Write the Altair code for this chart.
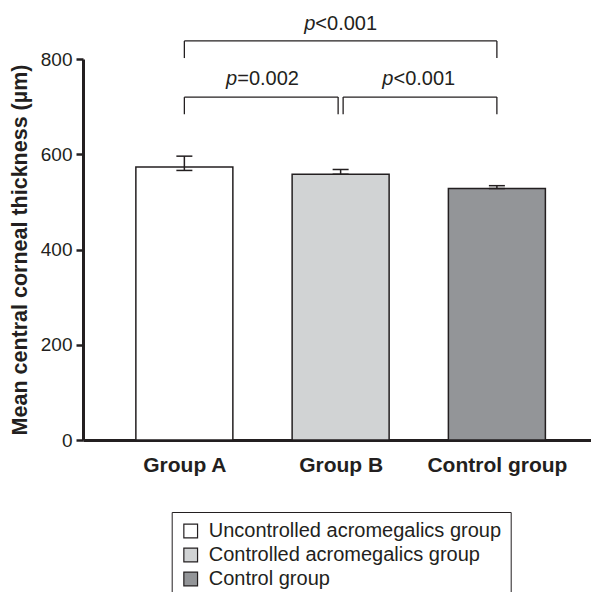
import json
import altair as alt
import pandas as pd

# ---------------- data ----------------
groups = ["Group A", "Group B", "Control group"]
legend_labels = ["Uncontrolled acromegalics group", "Controlled acromegalics group", "Control group"]
means = [573, 558, 528]
err_low = [566, 558, 528]
err_high = [596, 568, 534]
colors = ["#ffffff", "#d1d3d4", "#939598"]
y_ticks = [0, 200, 400, 600, 800]

# significance brackets (group index from/to, bracket level, leg end, label level)
br_from = [0, 0, 1]
br_to = [2, 1, 2]
br_level = [838, 720, 720]
br_leg = [802, 684, 684]
br_label_y = [873, 757, 757]
br_text = ["<0.001", "=0.002", "<0.001"]
br_off_left = [0, 0, 2.5]
br_off_right = [0, -2.5, 0]

INK = "#231f20"
FONT = "Liberation Sans"

bars = pd.DataFrame({
    "pos": list(range(len(groups))),
    "group": groups,
    "legend": legend_labels,
    "mean": means,
    "lo": err_low,
    "hi": err_high,
})

xscale = alt.Scale(domain=[-0.6167, 2.5703], nice=False, zero=False)
yscale = alt.Scale(domain=[0, 800], nice=False, zero=True)

label_expr = json.dumps(groups) + "[datum.value]"
xaxis = alt.Axis(values=list(range(len(groups))), labelExpr=label_expr, ticks=False, grid=False,
                 domainWidth=3, domainColor=INK, labelFontSize=21, labelFontWeight="bold",
                 labelColor=INK, labelPadding=14, title=None, labelFont=FONT, labelLimit=300)
yaxis = alt.Axis(values=y_ticks, tickSize=7, tickWidth=2.5, tickColor=INK, domainWidth=3,
                 domainColor=INK, labelFontSize=19, labelColor=INK, labelPadding=4, grid=False,
                 title="Mean central corneal thickness (µm)", titleFontSize=21.5, titleFontWeight="bold",
                 titleColor=INK, titlePadding=9, labelFont=FONT, titleFont=FONT, titleLimit=700)


def X(field):
    return alt.X(field, type="quantitative", scale=xscale, axis=xaxis)


def Y(field):
    return alt.Y(field, type="quantitative", scale=yscale, axis=yaxis)


bar_layer = alt.Chart(bars).mark_bar(size=97, stroke=INK, strokeWidth=1.5, orient="vertical").encode(
    x=X("pos"),
    y=alt.Y("mean", type="quantitative", scale=yscale, axis=yaxis, stack=None),
    color=alt.Color("legend", type="nominal",
                    scale=alt.Scale(domain=legend_labels, range=colors),
                    legend=alt.Legend(orient="none", legendX=88.7, legendY=453, title=None,
                                      symbolType="square", symbolSize=188, symbolStrokeColor=INK,
                                      symbolStrokeWidth=1.2, labelFontSize=20, labelColor=INK,
                                      labelFont=FONT, labelOffset=8, rowPadding=4, padding=9,
                                      strokeColor=INK, fillColor="white", labelLimit=400)),
)

err_stem = alt.Chart(bars).mark_rule(color=INK, strokeWidth=1.5).encode(
    x=X("pos"), y=Y("lo"), y2="hi")
cap_hi = alt.Chart(bars).mark_rule(color=INK, strokeWidth=1.5, xOffset=-8, x2Offset=8).encode(
    x=X("pos"), x2="pos", y=Y("hi"))
cap_lo = alt.Chart(bars).mark_rule(color=INK, strokeWidth=1.5, xOffset=-8, x2Offset=8).encode(
    x=X("pos"), x2="pos", y=Y("lo"))

layers = [bar_layer, err_stem, cap_hi, cap_lo]

for k in range(len(br_from)):
    d = pd.DataFrame({
        "a": [br_from[k]], "b": [br_to[k]], "mid": [(br_from[k] + br_to[k]) / 2],
        "lvl": [br_level[k]], "leg": [br_leg[k]], "ty": [br_label_y[k]],
        "txt": [br_text[k]], "p": ["p"],
    })
    ol, orr = br_off_left[k], br_off_right[k]
    base = alt.Chart(d)
    layers.append(base.mark_rule(color=INK, strokeWidth=1.3, xOffset=ol, x2Offset=orr).encode(
        x=X("a"), x2="b", y=Y("lvl")))
    layers.append(base.mark_rule(color=INK, strokeWidth=1.3, xOffset=ol).encode(
        x=X("a"), y=Y("lvl"), y2="leg"))
    layers.append(base.mark_rule(color=INK, strokeWidth=1.3, xOffset=orr).encode(
        x=X("b"), y=Y("lvl"), y2="leg"))
    layers.append(base.mark_text(align="right", baseline="middle", dx=-25.3, fontSize=20,
                                 fontStyle="italic", font=FONT, color=INK).encode(
        x=X("mid"), y=Y("ty"), text="p"))
    layers.append(base.mark_text(align="left", baseline="middle", dx=-25.3, fontSize=20,
                                 font=FONT, color=INK).encode(
        x=X("mid"), y=Y("ty"), text="txt"))

chart = alt.layer(*layers).properties(
    width=508, height=381,
    autosize=alt.AutoSizeParams(type="none"),
    padding={"left": 75, "top": 51, "right": 0, "bottom": 152},
    background="white",
).configure(font=FONT).configure_view(stroke=None)

chart.save("out.html", embed_options={"renderer": "svg", "actions": False})
